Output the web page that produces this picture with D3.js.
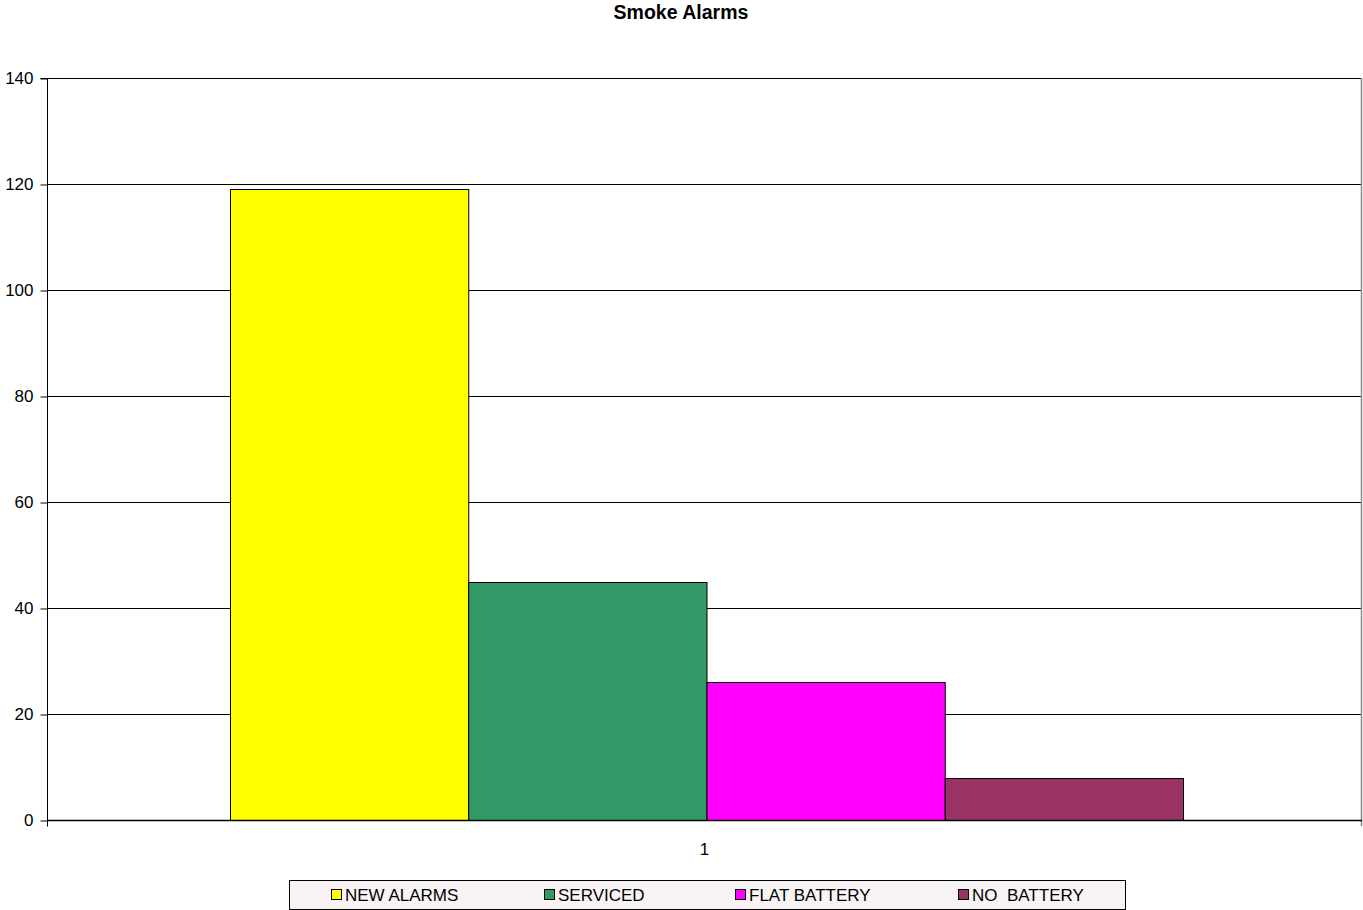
<!DOCTYPE html>
<html>
<head>
<meta charset="utf-8">
<script src="https://cdn.jsdelivr.net/npm/d3@7"></script>
<style>
  html, body { margin: 0; padding: 0; background: #fff; }
  svg { display: block; font-family: "Liberation Sans", Arial, sans-serif; }
</style>
</head>
<body>
<svg id="chart" width="1363" height="910"></svg>
<script>
// Smoke alarm counts, one category with four series
const categories = ["1"];
const seriesNames = ["NEW ALARMS", "SERVICED", "FLAT BATTERY", "NO  BATTERY"];
const seriesValues = [119, 45, 26, 8];
const seriesColors = ["#ffff00", "#339966", "#ff00ff", "#993366"];
const yTicks = [0, 20, 40, 60, 80, 100, 120, 140];

const svg = d3.select("#chart");
const margin = { left: 47, right: 1362, top: 78, bottom: 820 };

const y = d3.scaleLinear().domain([0, 140]).range([margin.bottom, margin.top]);
const x0 = d3.scaleBand().domain(categories).range([margin.left, margin.right]);
// inner band for the series within the single category
const x1 = d3.scaleBand().domain(seriesNames)
  .range([230 - margin.left, 1183 - margin.left]);

// Title
svg.append("text")
  .attr("x", 681).attr("y", 19)
  .attr("text-anchor", "middle")
  .attr("font-size", 19.5).attr("font-weight", "bold")
  .text("Smoke Alarms");

// Horizontal gridlines
svg.append("g").selectAll("line")
  .data(yTicks.filter(d => d > 0))
  .join("line")
  .attr("x1", margin.left).attr("x2", margin.right)
  .attr("y1", d => Math.round(y(d)) + 0.5).attr("y2", d => Math.round(y(d)) + 0.5)
  .attr("stroke", "#000").attr("stroke-width", 1);

// Right border of plot area
svg.append("line")
  .attr("x1", margin.right - 0.5).attr("x2", margin.right - 0.5)
  .attr("y1", margin.top).attr("y2", margin.bottom + 6)
  .attr("stroke", "#888").attr("stroke-width", 1.5);

// Bars
svg.append("g").selectAll("rect")
  .data(seriesNames.map((n, i) => ({ name: n, value: seriesValues[i], color: seriesColors[i] })))
  .join("rect")
  .attr("x", d => x0(categories[0]) + x1(d.name) + 0.5)
  .attr("y", d => Math.round(y(d.value)) + 0.5)
  .attr("width", x1.bandwidth())
  .attr("height", d => Math.round(y(0)) - Math.round(y(d.value)))
  .attr("fill", d => d.color)
  .attr("stroke", "#000").attr("stroke-width", 1);

// Y axis
const yAxis = d3.axisLeft(y).tickValues(yTicks).tickSize(7).tickPadding(7);
const yg = svg.append("g").attr("transform", `translate(${margin.left + 0.5},0.5)`).call(yAxis);
yg.select(".domain").attr("d", `M-7,${margin.top}H0V${margin.bottom + 6}`).attr("stroke", "#000");
yg.selectAll(".tick line").attr("stroke", "#000");
yg.selectAll(".tick text").attr("font-size", 17).attr("fill", "#000")
  .attr("font-family", "\"Liberation Sans\", Arial, sans-serif");

// X axis
const xAxis = d3.axisBottom(x0).tickSize(0).tickPadding(22);
const xg = svg.append("g").attr("transform", `translate(0,${Math.round(y(0)) + 0.5})`).call(xAxis);
xg.select(".domain").attr("d", `M${margin.left},0H${margin.right}`).attr("stroke", "#000").attr("stroke-width", 1.5);
xg.selectAll(".tick text").attr("font-size", 17).attr("fill", "#000")
  .attr("font-family", "\"Liberation Sans\", Arial, sans-serif");

// Legend
const legend = svg.append("g");
legend.append("rect")
  .attr("x", 289.5).attr("y", 880.5).attr("width", 836).attr("height", 29)
  .attr("fill", "#f8f4f6").attr("stroke", "#000").attr("stroke-width", 1);
const legendX = [331, 544, 735, 958];
const items = legend.selectAll("g.item")
  .data(seriesNames.map((n, i) => ({ name: n, color: seriesColors[i], x: legendX[i] })))
  .join("g").attr("class", "item")
  .attr("transform", d => `translate(${d.x},889)`);
items.append("rect")
  .attr("x", 0.5).attr("y", 0.5).attr("width", 10).attr("height", 10)
  .attr("fill", d => d.color).attr("stroke", "#000").attr("stroke-width", 1);
items.append("text")
  .attr("x", 14).attr("y", 12)
  .attr("font-size", 17)
  .style("white-space", "pre")
  .text(d => d.name);
</script>
</body>
</html>
